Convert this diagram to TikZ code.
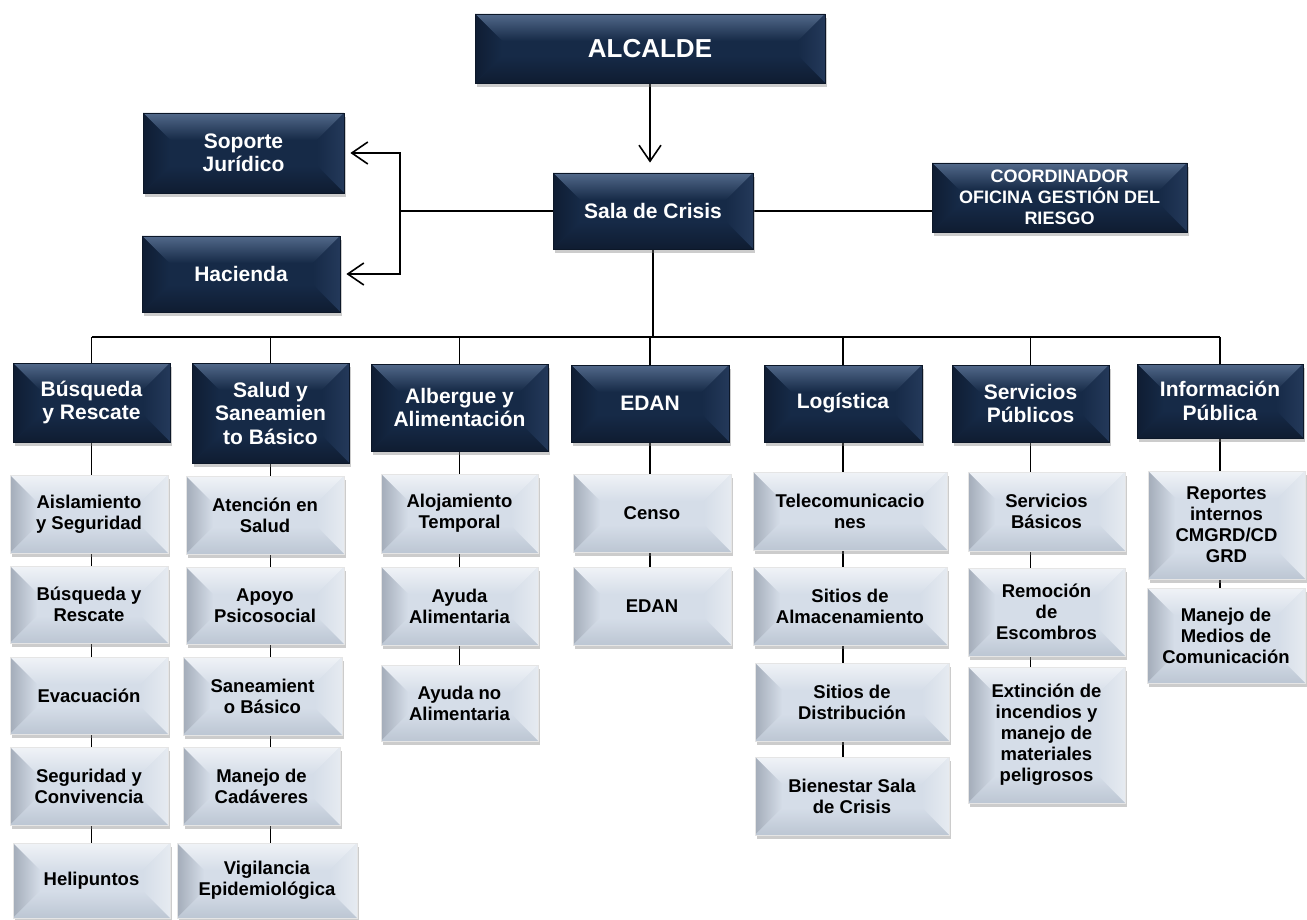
\documentclass[tikz,border=0pt]{standalone}
\usepackage{fontspec}
\setmainfont{Liberation Sans}
\usetikzlibrary{arrows.meta,shadows,backgrounds}

\definecolor{azul}{HTML}{162A47}
\definecolor{azulborde}{HTML}{0C1728}
\definecolor{azularriba}{HTML}{52698A}
\definecolor{azulizq}{HTML}{0F1D33}
\definecolor{azulder}{HTML}{24395A}
\definecolor{azulabajo}{HTML}{0F1C31}
\definecolor{gris}{HTML}{D5DDE8}
\definecolor{grisarriba}{HTML}{F0F3F7}
\definecolor{grisizq}{HTML}{A3ACB9}
\definecolor{grisder}{HTML}{E6EBF1}
\definecolor{grisabajo}{HTML}{BCC6D3}

\newcommand{\bisel}{27pt}

\begin{document}
\begin{tikzpicture}[x=1pt, y=-1pt,
    bisel/.style n args={5}{path picture={
        \coordinate (nw) at (path picture bounding box.north west);
        \coordinate (ne) at (path picture bounding box.north east);
        \coordinate (sw) at (path picture bounding box.south west);
        \coordinate (se) at (path picture bounding box.south east);
        \shade[top color=#2, bottom color=#1] (nw) -- (ne) -- ([shift={(-\bisel,-\bisel)}]ne) -- ([shift={(\bisel,-\bisel)}]nw) -- cycle;
        \shade[left color=#3, right color=#1] (nw) -- ([shift={(\bisel,-\bisel)}]nw) -- ([shift={(\bisel,\bisel)}]sw) -- (sw) -- cycle;
        \shade[left color=#1, right color=#4] (ne) -- ([shift={(-\bisel,-\bisel)}]ne) -- ([shift={(-\bisel,\bisel)}]se) -- (se) -- cycle;
        \shade[top color=#1, bottom color=#5] (sw) -- ([shift={(\bisel,\bisel)}]sw) -- ([shift={(-\bisel,\bisel)}]se) -- (se) -- cycle;
    }},
    sombra/.style={drop shadow={shadow xshift=2pt, shadow yshift=-4pt, opacity=.4, fill=black!50}},
    oscura/.style={shape=rectangle, draw=azulborde, line width=0.8pt, fill=azul, text=white,
        font=\bfseries\fontsize{21}{23.5}\selectfont, align=center, inner sep=2pt,
        minimum width=157pt, minimum height=77pt, sombra,
        bisel={azul}{azularriba}{azulizq}{azulder}{azulabajo}},
    clara/.style={shape=rectangle, draw=white!80!gray, line width=0.8pt, fill=gris, text=black,
        font=\bfseries\fontsize{18.5}{21}\selectfont, align=center, inner sep=2pt,
        minimum width=158pt, minimum height=78pt, sombra,
        bisel={gris}{grisarriba}{grisizq}{grisder}{grisabajo}},
    linea/.style={line width=1.6pt, black},
    flecha/.style={-{Straight Barb[length=16pt, width=22pt, line width=1.6pt]}},
  ]
  \useasboundingbox (0,0) rectangle (1307,920);

  % direccion
  \node[oscura, minimum width=350pt, minimum height=69pt, font=\bfseries\fontsize{26}{28}\selectfont] (alcalde) at (650,48.5) {ALCALDE};
  \node[oscura, minimum width=200pt, minimum height=76pt] (sala) at (653,211) {Sala de Crisis};
  \node[oscura, minimum width=201pt, minimum height=80pt] (soporte) at (243.5,153) {Soporte\\Jurídico};
  \node[oscura, minimum width=198pt, minimum height=76pt] (hacienda) at (241,274) {Hacienda};
  \node[oscura, minimum width=255pt, minimum height=69pt, font=\bfseries\fontsize{18}{21}\selectfont] (coord) at (1059.5,197.5) {COORDINADOR\\OFICINA GESTIÓN DEL\\RIESGO};
  \coordinate (bus) at (653,337);
  \coordinate (llave) at (400,211);

  % areas
  \node[oscura, minimum height=79pt] (busq) at (91.5,402.5) {Búsqueda\\y Rescate};
  \node[oscura, minimum height=100pt] (salud) at (270.5,413) {Salud y\\Saneamien\\to Básico};
  \node[oscura, minimum width=177pt, minimum height=87pt] (alberg) at (459.5,407.5) {Albergue y\\Alimentación};
  \node[oscura, minimum width=158pt] (edan) at (650,403.5) {EDAN};
  \node[oscura, minimum width=158pt] (logis) at (843,403.5) {Logística};
  \node[oscura] (serv) at (1030.5,403.5) {Servicios\\Públicos};
  \node[oscura, minimum width=166pt, minimum height=74pt] (info) at (1220,401) {Información\\Pública};

  % busqueda y rescate
  \node[clara] (b1) at (89,514) {Aislamiento\\y Seguridad};
  \node[clara, minimum height=77pt] (b2) at (89,604.5) {Búsqueda y\\Rescate};
  \node[clara, minimum height=77pt] (b3) at (89,695.5) {Evacuación};
  \node[clara] (b4) at (89,786) {Seguridad y\\Convivencia};
  \node[clara, minimum width=157pt, minimum height=75pt] (b5) at (91.5,880.5) {Helipuntos};

  % salud
  \node[clara] (s1) at (265,515) {Atención en\\Salud};
  \node[clara, minimum height=77pt] (s2) at (265,605.5) {Apoyo\\Psicosocial};
  \node[clara, minimum width=159pt] (s3) at (262.5,696) {Saneamient\\o Básico};
  \node[clara, minimum width=157pt] (s4) at (261.5,786) {Manejo de\\Cadáveres};
  \node[clara, minimum width=180pt, minimum height=75pt] (s5) at (267,880.5) {Vigilancia\\Epidemiológica};

  % albergue
  \node[clara, minimum width=157pt, minimum height=79pt] (a1) at (459.5,513.5) {Alojamiento\\Temporal};
  \node[clara, minimum width=157pt] (a2) at (459.5,606) {Ayuda\\Alimentaria};
  \node[clara, minimum width=157pt, minimum height=76pt] (a3) at (459.5,703) {Ayuda no\\Alimentaria};

  % edan
  \node[clara] (e1) at (652,513) {Censo};
  \node[clara] (e2) at (652,606) {EDAN};

  % logistica
  \node[clara, minimum width=194pt] (l1) at (850,511) {Telecomunicacio\\nes};
  \node[clara, minimum width=194pt] (l2) at (850,606) {Sitios de\\Almacenamiento};
  \node[clara, minimum width=194pt] (l3) at (852,702) {Sitios de\\Distribución};
  \node[clara, minimum width=194pt] (l4) at (852,796) {Bienestar Sala\\de Crisis};

  % servicios publicos
  \node[clara, minimum width=157pt, minimum height=79pt] (v1) at (1046.5,511.5) {Servicios\\Básicos};
  \node[clara, minimum width=157pt, minimum height=88pt] (v2) at (1046.5,612) {Remoción\\de\\Escombros};
  \node[clara, minimum width=157pt, minimum height=136pt] (v3) at (1046.5,735) {Extinción de\\incendios y\\manejo de\\materiales\\peligrosos};

  % informacion publica
  \node[clara, minimum width=157pt, minimum height=108pt] (i1) at (1226.5,525) {Reportes\\internos\\CMGRD/CD\\GRD};
  \node[clara, minimum width=158pt, minimum height=95pt] (i2) at (1226,635.5) {Manejo de\\Medios de\\Comunicación};

  \begin{scope}[on background layer]
    \fill[white] (0,0) rectangle (1307,920);
    \draw[linea, flecha, shorten >=10pt] (alcalde) -- (alcalde |- sala.north);
    \draw[linea] (sala) -- (sala -| coord.west);
    \draw[linea] (sala) -- (llave);
    \draw[linea, flecha, shorten >=6pt] (llave) |- (soporte.east);
    \draw[linea, flecha, shorten >=6pt] (llave) |- (hacienda.east);
    \draw[linea] (sala) -- (bus);
    \draw[linea] (busq |- bus) -- (info |- bus);
    \foreach \area in {busq,salud,alberg,edan,logis,serv,info}
      \draw[linea] (\area) -- (\area |- bus);
    \draw[linea] (busq) -- (busq |- b5);
    \draw[linea] (salud) -- (salud |- s5);
    \draw[linea] (alberg) -- (alberg |- a3);
    \draw[linea] (edan) -- (edan |- e2);
    \draw[linea] (logis) -- (logis |- l4);
    \draw[linea] (serv) -- (serv |- v3);
    \draw[linea] (info) -- (info |- i2);
  \end{scope}
\end{tikzpicture}
\end{document}
